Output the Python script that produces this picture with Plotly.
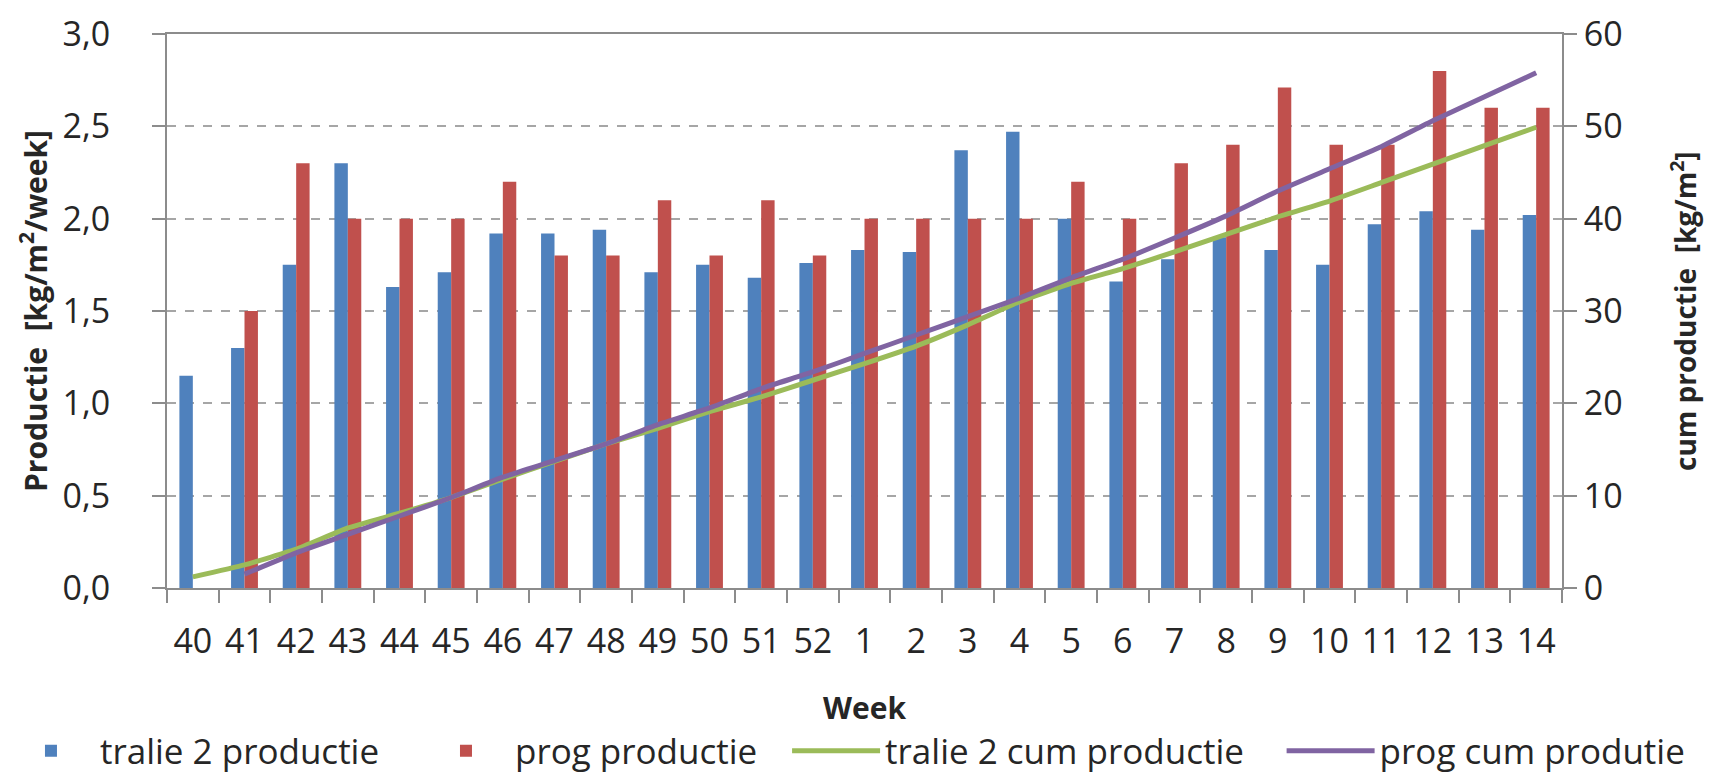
import plotly.graph_objects as go

weeks = ["40", "41", "42", "43", "44", "45", "46", "47", "48", "49", "50", "51", "52",
         "1", "2", "3", "4", "5", "6", "7", "8", "9", "10", "11", "12", "13", "14"]

tralie2_productie = [1.15, 1.30, 1.75, 2.30, 1.63, 1.71, 1.92, 1.92, 1.94, 1.71, 1.75, 1.68, 1.76,
                     1.83, 1.82, 2.37, 2.47, 2.00, 1.66, 1.78, 1.90, 1.83, 1.75, 1.97, 2.04, 1.94, 2.02]

prog_productie = [None, 1.50, 2.30, 2.00, 2.00, 2.00, 2.20, 1.80, 1.80, 2.10, 1.80, 2.10, 1.80,
                  2.00, 2.00, 2.00, 2.00, 2.20, 2.00, 2.30, 2.40, 2.71, 2.40, 2.40, 2.80, 2.60, 2.60]

tralie2_cum = [1.2, 2.5, 4.2, 6.5, 8.1, 9.8, 11.8, 13.7, 15.6, 17.3, 19.1, 20.7, 22.5,
               24.3, 26.2, 28.5, 31.0, 33.0, 34.6, 36.4, 38.3, 40.2, 41.9, 43.9, 45.9, 47.9, 49.9]

prog_cum = [None, 1.5, 3.8, 5.8, 7.8, 9.8, 12.0, 13.8, 15.6, 17.7, 19.5, 21.6, 23.4,
            25.4, 27.4, 29.4, 31.4, 33.6, 35.6, 37.9, 40.3, 43.0, 45.4, 47.8, 50.6, 53.2, 55.8]

left_ticks = [0, 0.5, 1.0, 1.5, 2.0, 2.5, 3.0]
right_ticks = [0, 10, 20, 30, 40, 50, 60]

FONT = "Open Sans"
TXT = "#262626"
GRID = "#A6A6A6"
AXIS = "#8C8C8C"
TICK_SIZE = 34
TITLE_SIZE = 29
LEG_SIZE = 35
LEG_Y = -0.294

fig = go.Figure()
fig.add_trace(go.Bar(x=weeks, y=tralie2_productie, name="tralie 2 productie", legend="legend",
                     marker=dict(color="#4F81BD", line=dict(width=0))))
fig.add_trace(go.Bar(x=weeks, y=prog_productie, name="prog productie", legend="legend2",
                     marker=dict(color="#C0504D", line=dict(width=0))))
fig.add_trace(go.Scatter(x=weeks, y=tralie2_cum, name="tralie 2 cum productie", yaxis="y2", legend="legend3",
                         mode="lines", line=dict(color="#9BBB59", width=5, shape="spline", smoothing=0.4)))
fig.add_trace(go.Scatter(x=weeks, y=prog_cum, name="prog cum produtie", yaxis="y2", legend="legend4",
                         mode="lines", line=dict(color="#8064A2", width=5, shape="spline", smoothing=0.4)))


def leg(x):
    return dict(orientation="h", x=x, xanchor="left", y=LEG_Y, yanchor="middle",
                font=dict(size=LEG_SIZE, family=FONT, color=TXT), itemwidth=88,
                bgcolor="rgba(0,0,0,0)", borderwidth=0)


fig.update_layout(
    width=1699, height=767,
    margin=dict(l=159, r=145, t=26, b=187, autoexpand=False),
    paper_bgcolor="white", plot_bgcolor="white",
    separators=",.",
    font=dict(family=FONT, size=TICK_SIZE, color=TXT),
    barmode="group", bargap=0.48, bargroupgap=0.0,
    showlegend=True,
    legend=leg(-0.1183), legend2=leg(0.1792), legend3=leg(0.4445), legend4=leg(0.7990),
    xaxis=dict(
        type="category", automargin=False, showline=True, linecolor=AXIS, linewidth=2, mirror=True,
        ticks="outside", tickson="boundaries", ticklen=13, tickcolor=AXIS, tickwidth=2,
        ticklabelstandoff=22, ticklabeloverflow="allow",
        tickfont=dict(size=TICK_SIZE, family=FONT, color=TXT), showgrid=False,
    ),
    yaxis=dict(
        range=[0, 3], tickvals=left_ticks, tickformat=".1f", automargin=False,
        showline=True, linecolor=AXIS, linewidth=2,
        ticks="outside", ticklen=13, tickcolor=AXIS, tickwidth=2, ticklabelstandoff=35,
        ticklabeloverflow="allow",
        showgrid=True, gridcolor=GRID, gridwidth=2, griddash="dash",
        zeroline=False, tickfont=dict(size=TICK_SIZE, family=FONT, color=TXT),
    ),
    yaxis2=dict(
        range=[0, 60], tickvals=right_ticks, overlaying="y", side="right", automargin=False,
        showline=True, linecolor=AXIS, linewidth=2,
        ticks="outside", ticklen=13, tickcolor=AXIS, tickwidth=2, ticklabelstandoff=0,
        ticklabeloverflow="allow",
        showgrid=False, zeroline=False, tickfont=dict(size=TICK_SIZE, family=FONT, color=TXT),
    ),
    annotations=[
        dict(text="<b>Productie  [kg/m<sup>2</sup>/week]</b>", xref="paper", yref="paper",
             x=0, y=0.5, xanchor="center", yanchor="middle", xshift=-133, textangle=-90,
             showarrow=False, font=dict(size=TITLE_SIZE + 1, family=FONT, color=TXT)),
        dict(text="<b>cum productie  [kg/m<sup>2</sup>]</b>", xref="paper", yref="paper",
             x=1, y=0.5, xanchor="center", yanchor="middle", xshift=121, textangle=-90,
             showarrow=False, font=dict(size=TITLE_SIZE - 1, family=FONT, color=TXT)),
        dict(text="<b>Week</b>", xref="paper", yref="paper",
             x=0.5, y=0, xanchor="center", yanchor="middle", yshift=-119,
             showarrow=False, font=dict(size=TITLE_SIZE + 1, family=FONT, color=TXT)),
    ],
)

fig.write_html("out.html")
